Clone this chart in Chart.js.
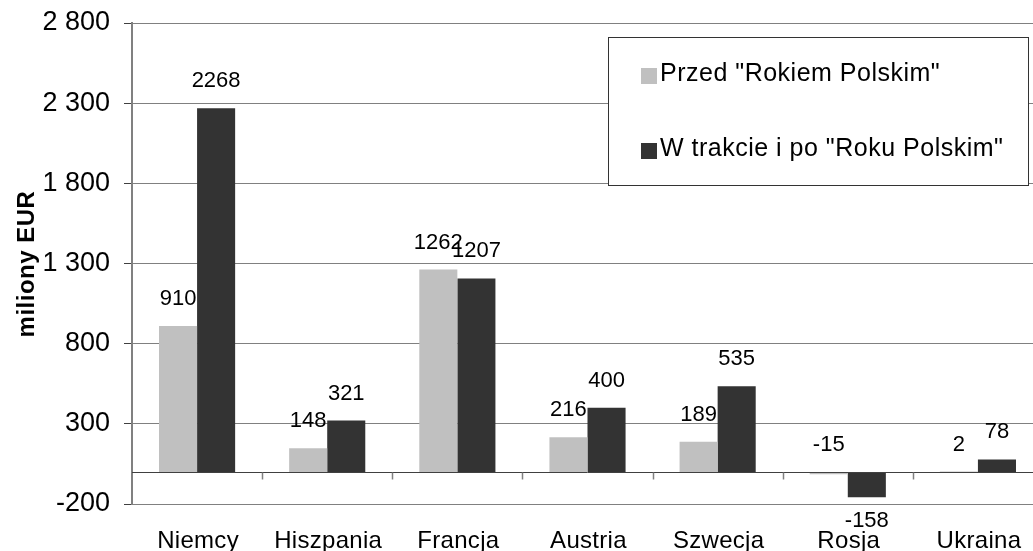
<!DOCTYPE html>
<html><head><meta charset="utf-8">
<script src="https://cdn.jsdelivr.net/npm/chart.js@4/dist/chart.umd.min.js"></script>
<style>html,body{margin:0;padding:0;background:#fff;overflow:hidden;} #wrap{width:1046px;height:551px;}</style>
</head><body><div id="wrap"><canvas id="c" width="1046" height="551"></canvas></div>
<script>
const categories = ['Niemcy','Hiszpania','Francja','Austria','Szwecja','Rosja','Ukraina'];
const seriesNames = ['Przed "Rokiem Polskim"', 'W trakcie i po "Roku Polskim"'];
const beforeValues = [910,148,1262,216,189,-15,2];
const duringValues = [2268,321,1207,400,535,-158,78];
const yTickValues = [-200,300,800,1300,1800,2300,2800];
const yTickLabels = ['-200','300','800','1 300','1 800','2 300','2 800'];
const yAxisTitle = 'miliony EUR';

const FONT = '"Liberation Sans", Arial, sans-serif';
const COLORS = ['#C0C0C0', '#333333'];

const decor = {
  id: 'decor',
  afterDatasetsDraw(chart) {
    const ctx = chart.ctx, xs = chart.scales.x, ys = chart.scales.y, ca = chart.chartArea;
    const y0 = Math.round(ys.getPixelForValue(0)) + 0.5;
    ctx.save();
    ctx.strokeStyle = '#404040'; ctx.lineWidth = 1;
    ctx.beginPath(); ctx.moveTo(ca.left, y0); ctx.lineTo(ca.right, y0); ctx.stroke();
    const cw = (ca.right - ca.left) / categories.length;
    ctx.strokeStyle = '#808080'; ctx.lineWidth = 1.5;
    for (let i = 1; i < categories.length; i++) {
      const bx = Math.round(xs.getPixelForValue(i) - cw / 2) + 0.5;
      ctx.beginPath(); ctx.moveTo(bx, y0); ctx.lineTo(bx, y0 + 7); ctx.stroke();
    }
    // data labels
    ctx.fillStyle = '#000';
    ctx.font = '22px ' + FONT;
    ctx.textAlign = 'center'; ctx.textBaseline = 'middle';
    chart.data.datasets.forEach((ds, di) => {
      const meta = chart.getDatasetMeta(di);
      meta.data.forEach((bar, i) => {
        const v = ds.data[i];
        let ly;
        if (v < -100) ly = Math.max(bar.y, bar.base) + 24;
        else ly = Math.min(bar.y, bar.base) - 27;
        ctx.fillText(String(v), bar.x, ly);
      });
    });
    ctx.restore();
  },
  afterDraw(chart) {
    const ctx = chart.ctx, xs = chart.scales.x, ca = chart.chartArea;
    ctx.save();
    // x labels
    ctx.fillStyle = '#000';
    ctx.font = '24px ' + FONT;
    try { ctx.letterSpacing = '0.3px'; } catch (e) {}
    ctx.textAlign = 'center'; ctx.textBaseline = 'alphabetic';
    categories.forEach((c, i) => ctx.fillText(c, xs.getPixelForValue(i) + 1, 548));
    // y title
    ctx.save();
    ctx.font = 'bold 24px ' + FONT;
    try { ctx.letterSpacing = '0.5px'; } catch (e) {}
    ctx.translate(27, 264);
    ctx.rotate(-Math.PI / 2);
    ctx.textAlign = 'center'; ctx.textBaseline = 'middle';
    ctx.fillText(yAxisTitle, 0, 0);
    ctx.restore();
    // legend
    const lx = 608.5, ly = 37.5, lw = 420, lh = 148;
    ctx.fillStyle = '#fff';
    ctx.fillRect(lx, ly, lw, lh);
    ctx.strokeStyle = '#333'; ctx.lineWidth = 1;
    ctx.strokeRect(lx, ly, lw, lh);
    ctx.font = '25px ' + FONT;
    try { ctx.letterSpacing = '0.5px'; } catch (e) {}
    ctx.textAlign = 'left'; ctx.textBaseline = 'middle';
    const rows = [74, 149];
    seriesNames.forEach((n, i) => {
      ctx.fillStyle = COLORS[i];
      ctx.fillRect(641, rows[i] - 6, 16, 16);
      ctx.fillStyle = '#000';
      ctx.fillText(n, 660, rows[i]);
    });
    ctx.restore();
  }
};

new Chart(document.getElementById('c'), {
  type: 'bar',
  data: {
    labels: categories,
    datasets: [
      { label: seriesNames[0], data: beforeValues, backgroundColor: COLORS[0] },
      { label: seriesNames[1], data: duringValues, backgroundColor: COLORS[1] }
    ]
  },
  options: {
    responsive: false,
    animation: false,
    devicePixelRatio: 1,
    layout: { padding: { top: 23, right: 3, left: 0, bottom: 0 } },
    datasets: { bar: { categoryPercentage: 0.585, barPercentage: 1.0 } },
    plugins: { legend: { display: false }, tooltip: { enabled: false } },
    scales: {
      x: {
        afterFit(s) { s.height = 47; s.paddingLeft = 0; s.paddingRight = 0; },
        ticks: { display: false },
        grid: { display: false, drawTicks: false },
        border: { display: false }
      },
      y: {
        min: -200, max: 2800,
        afterFit(s) { s.width = 132; s.paddingTop = 0; s.paddingBottom = 0; },
        afterBuildTicks(s) { s.ticks = yTickValues.map(v => ({ value: v })); },
        ticks: {
          stepSize: 500, padding: 14, color: '#000',
          font: { family: FONT, size: 27 },
          callback: (v) => { const k = yTickValues.indexOf(v); return k >= 0 ? yTickLabels[k] : ''; }
        },
        grid: { color: '#808080', lineWidth: 1, tickLength: 8, drawTicks: true, tickColor: '#404040' },
        border: { display: true, color: '#808080', width: 2 }
      }
    }
  },
  plugins: [decor]
});
</script>
</body></html>
